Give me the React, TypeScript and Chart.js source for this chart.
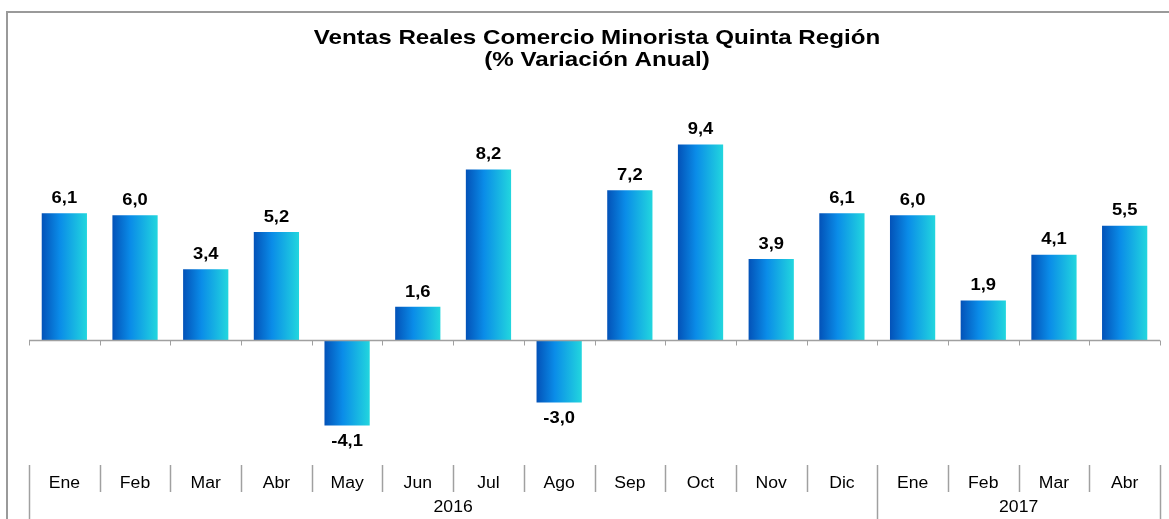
import React, { useEffect, useRef } from "react";
import { Chart, registerables } from "chart.js";

Chart.register(...registerables);

const months: string[] = ["Ene", "Feb", "Mar", "Abr", "May", "Jun", "Jul", "Ago", "Sep", "Oct", "Nov", "Dic", "Ene", "Feb", "Mar", "Abr"];
const values: number[] = [6.1, 6.0, 3.4, 5.2, -4.1, 1.6, 8.2, -3.0, 7.2, 9.4, 3.9, 6.1, 6.0, 1.9, 4.1, 5.5];
const years: string[] = ["2016", "2017"];
const yearCounts: number[] = [12, 4];
const titleLines: string[] = ["Ventas Reales Comercio Minorista Quinta Región", "(% Variación Anual)"];

const FONT = "'Liberation Sans', Arial, sans-serif";
const BAR_PCT = 0.64;

function stretchText(ctx: CanvasRenderingContext2D, text: string, x: number, y: number, sx: number) {
  ctx.save();
  ctx.translate(x, y);
  ctx.scale(sx, 1);
  ctx.fillText(text, 0, 0);
  ctx.restore();
}

const decor = {
  id: "decor",
  beforeDraw(chart: any) {
    const ctx = chart.ctx;
    ctx.save();
    ctx.fillStyle = "#ffffff";
    ctx.fillRect(0, 0, chart.width, chart.height);
    ctx.strokeStyle = "#9a9a9a";
    ctx.lineWidth = 2;
    ctx.strokeRect(7, 12, chart.width + 20, chart.height + 20);
    ctx.fillStyle = "#000";
    ctx.font = `bold 21px ${FONT}`;
    ctx.textAlign = "center";
    ctx.textBaseline = "middle";
    stretchText(ctx, titleLines[0], 597, 38, 1.15);
    stretchText(ctx, titleLines[1], 597, 60, 1.15);
    ctx.restore();
  },
  afterDatasetsDraw(chart: any) {
    const ctx = chart.ctx;
    const x = chart.scales.x;
    const y = chart.scales.y;
    const area = chart.chartArea;
    const step = (area.right - area.left) / months.length;
    const y0 = Math.round(y.getPixelForValue(0)) + 0.5;
    ctx.save();
    ctx.strokeStyle = "#a0a0a0";
    ctx.lineWidth = 1.5;
    ctx.beginPath();
    ctx.moveTo(area.left, y0);
    ctx.lineTo(area.right, y0);
    ctx.stroke();
    ctx.lineWidth = 1;
    for (let i = 0; i <= months.length; i++) {
      const bx = Math.round(area.left + i * step) + 0.5;
      ctx.beginPath();
      ctx.moveTo(bx, y0);
      ctx.lineTo(bx, y0 + 5);
      ctx.stroke();
    }
    ctx.fillStyle = "#000";
    ctx.font = `bold 17px ${FONT}`;
    ctx.textAlign = "center";
    ctx.textBaseline = "middle";
    values.forEach((v, i) => {
      const cx = x.getPixelForValue(i);
      const py = y.getPixelForValue(v);
      const label = v.toFixed(1).replace(".", ",");
      const ly = v >= 0 ? py - 15 : py + 16;
      stretchText(ctx, label, cx, ly, 1.08);
    });
    const top = area.bottom;
    ctx.strokeStyle = "#a0a0a0";
    ctx.lineWidth = 1.5;
    const yearStarts: number[] = [];
    let acc = 0;
    yearCounts.forEach((c) => { yearStarts.push(acc); acc += c; });
    for (let i = 0; i <= months.length; i++) {
      const bx = Math.round(area.left + i * step) + 0.5;
      const isYear = i === months.length || yearStarts.includes(i);
      ctx.beginPath();
      ctx.moveTo(bx, top);
      ctx.lineTo(bx, isYear ? chart.height : top + 27);
      ctx.stroke();
    }
    ctx.font = `16px ${FONT}`;
    months.forEach((m, i) => {
      stretchText(ctx, m, x.getPixelForValue(i), top + 19, 1.1);
    });
    years.forEach((yr, k) => {
      const s = yearStarts[k];
      const e = s + yearCounts[k];
      const cx = area.left + ((s + e) / 2) * step;
      stretchText(ctx, yr, cx, top + 43, 1.1);
    });
    ctx.restore();
  },
};

export default function App() {
  const ref = useRef<HTMLCanvasElement | null>(null);
  useEffect(() => {
    if (!ref.current) return;
    const chart = new Chart(ref.current, {
      type: "bar",
      data: {
        labels: months,
        datasets: [
          {
            data: values,
            barPercentage: BAR_PCT,
            categoryPercentage: 1,
            backgroundColor: (c: any) => {
              const ch = c.chart;
              const xs = ch.scales?.x;
              const area = ch.chartArea;
              if (!xs || !area || c.dataIndex === undefined) return "#0a8ae6";
              const step = (area.right - area.left) / months.length;
              const hw = (step * BAR_PCT) / 2;
              const cx = xs.getPixelForValue(c.dataIndex);
              const g = ch.ctx.createLinearGradient(cx - hw, 0, cx + hw, 0);
              g.addColorStop(0, "#0352b8");
              g.addColorStop(0.4, "#0a8ce8");
              g.addColorStop(1, "#22d6de");
              return g;
            },
            borderWidth: 0,
          },
        ],
      },
      options: {
        animation: false,
        responsive: false,
        maintainAspectRatio: false,
        layout: { padding: { left: 29, right: 9, top: 132, bottom: 54 } },
        plugins: { legend: { display: false }, title: { display: false }, tooltip: { enabled: false } },
        scales: {
          x: { display: false },
          y: { display: false, min: -6, max: 10 },
        },
      },
      plugins: [decor],
    });
    return () => chart.destroy();
  }, []);
  return (
    <div style={{ position: "fixed", left: 0, top: 0, width: 1169, height: 519, background: "#fff" }}>
      <canvas ref={ref} width={1169} height={519} style={{ display: "block", width: 1169, height: 519 }} />
    </div>
  );
}
